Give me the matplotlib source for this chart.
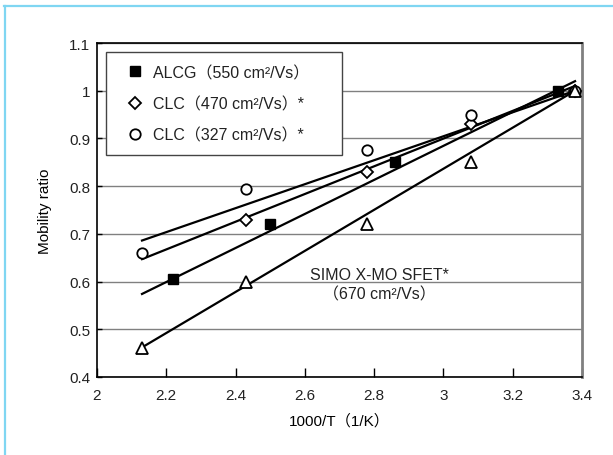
import matplotlib
matplotlib.use("Agg")
import matplotlib.pyplot as plt
from matplotlib.lines import Line2D

plt.rcParams["font.family"] = ["Liberation Sans", "Noto Sans CJK JP"]
plt.rcParams["text.color"] = "#222222"

# Measured mobility ratio vs inverse temperature
alcg_x = [2.22, 2.50, 2.86, 3.33]
alcg_y = [0.605, 0.72, 0.85, 1.00]
clc470_x = [2.43, 2.78, 3.08, 3.38]
clc470_y = [0.73, 0.83, 0.93, 1.00]
clc327_x = [2.13, 2.43, 2.78, 3.08, 3.38]
clc327_y = [0.66, 0.795, 0.875, 0.95, 1.00]
simox_x = [2.13, 2.43, 2.78, 3.08, 3.38]
simox_y = [0.46, 0.60, 0.72, 0.85, 1.00]

# Straight-line fits, start and end values
fit_x = [2.13, 3.38]
alcg_fit = [0.574, 1.02]
clc470_fit = [0.647, 1.01]
clc327_fit = [0.686, 1.00]
simox_fit = [0.462, 1.00]

labels = ["ALCG（550 cm²/Vs）", "CLC（470 cm²/Vs）*", "CLC（327 cm²/Vs）*"]
simox_label = "SIMO X-MO SFET*\n（670 cm²/Vs）"

fs = 11.5

fig = plt.figure(figsize=(6.13, 4.56), dpi=100)
ax = fig.add_axes([0.1582, 0.1711, 0.7912, 0.7324])

# light blue frame along top and left edges
fig.add_artist(Line2D([4 / 613, 1], [1 - 6.5 / 456] * 2, color="#7fd6f2", lw=1.6))
fig.add_artist(Line2D([4.5 / 613] * 2, [0, 1 - 6.5 / 456], color="#7fd6f2", lw=1.6))

for fy in [alcg_fit, clc470_fit, clc327_fit, simox_fit]:
    ax.plot(fit_x, fy, color="black", lw=1.6, zorder=3)

ms = 7.5
h1, = ax.plot(alcg_x, alcg_y, "s", ms=ms, color="black", zorder=4)
h2, = ax.plot(clc470_x, clc470_y, "D", ms=ms * 0.8, mfc="white", mec="black", mew=1.3, zorder=4)
h3, = ax.plot(clc327_x, clc327_y, "o", ms=ms, mfc="white", mec="black", mew=1.3, zorder=4)
ax.plot(simox_x, simox_y, "^", ms=ms + 0.8, mfc="white", mec="black", mew=1.3, zorder=4)

ax.text(2.815, 0.594, simox_label, ha="center", va="center", fontsize=fs,
        linespacing=1.4, multialignment="center")

ax.set_xlim(2, 3.4)
ax.set_ylim(0.4, 1.1)
ax.set_xticks([2, 2.2, 2.4, 2.6, 2.8, 3, 3.2, 3.4])
ax.set_xticklabels(["2", "2.2", "2.4", "2.6", "2.8", "3", "3.2", "3.4"])
ax.set_yticks([0.4, 0.5, 0.6, 0.7, 0.8, 0.9, 1.0, 1.1])
ax.set_yticklabels(["0.4", "0.5", "0.6", "0.7", "0.8", "0.9", "1", "1.1"])
ax.grid(axis="y", color="#808080", lw=1.0, zorder=1)
ax.set_axisbelow(True)

ax.tick_params(axis="x", direction="in", length=6.5, width=1, pad=8,
               labelsize=11, labelcolor="#222222")
ax.tick_params(axis="y", direction="in", length=3.6, width=1, pad=5,
               labelsize=11, labelcolor="#222222")
for side in ["left", "top", "bottom"]:
    ax.spines[side].set_color("black")
    ax.spines[side].set_linewidth(1.2)
ax.spines["right"].set_color("#808080")
ax.spines["right"].set_linewidth(2)

ax.set_xlabel("1000/T（1/K）", fontsize=11, labelpad=8)
ax.set_ylabel("Mobility ratio", fontsize=11, labelpad=12)

# legend box stretched to a fixed width
leg = ax.legend([h1, h2, h3], labels, loc="upper left",
                bbox_to_anchor=(0.0186, 0.662, 0.487, 0.311), mode="expand",
                borderaxespad=0, fancybox=False, framealpha=1, edgecolor="#444444",
                fontsize=fs, handlelength=2.0, handletextpad=0.15,
                borderpad=0.8, labelspacing=1.0)
leg.get_frame().set_linewidth(1.0)
leg.set_zorder(5)

fig.savefig("out.png", dpi=100)
